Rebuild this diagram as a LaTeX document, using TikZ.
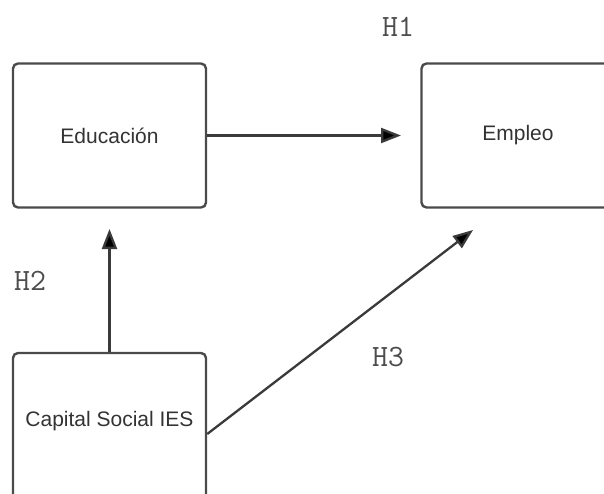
\documentclass[tikz,border=0pt]{standalone}
\usepackage{fontspec}
\setmainfont{Liberation Sans}
\usetikzlibrary{arrows.meta}
\definecolor{boxgray}{HTML}{4A4A4A}
\definecolor{txtgray}{HTML}{333333}
\definecolor{linegray}{HTML}{3A3A3A}
\definecolor{hgray}{HTML}{4D4D4D}
\begin{document}
\begin{tikzpicture}[x=1pt,y=-1pt,
  box/.style={draw=boxgray, line width=2.4pt, rounded corners=5pt, fill=white,
    minimum width=193pt, minimum height=144pt, inner sep=0pt,
    font=\fontsize{21}{25}\selectfont, text=txtgray},
  link/.style={draw=linegray, line width=2.3pt,
    -{Triangle[length=20pt,width=15pt,fill=black]}},
  hyp/.style={font=\ttfamily\fontsize{31}{35}\selectfont, text=hgray}]
  \clip (0,0) rectangle (604,493);
  \fill[white] (0,0) rectangle (604,493);

  % the three constructs (the lower box runs past the bottom edge)
  \node[box] (edu) at (109.5,135.5) {Educación};
  \node[box] (emp) at (518,135.5) {Empleo};
  \node[box, minimum height=150pt, text depth=18pt] (cap) at (109.5,428) {Capital Social IES};

  % free ends of the hypothesis arrows
  \coordinate (h1end) at (401,135.5);
  \coordinate (h2end) at (109.5,229);
  \coordinate (h3end) at (473,230);

  \draw[link] (edu.east) -- (h1end);
  \draw[link] (cap.north) -- (h2end);
  \draw[link] ([yshift=-6pt]cap.east) -- (h3end);

  % hypothesis labels
  \node[hyp] (lh1) at (398,27) {H1};
  \node[hyp] (lh2) at (30,281) {H2};
  \node[hyp] (lh3) at (388,357) {H3};
\end{tikzpicture}
\end{document}
